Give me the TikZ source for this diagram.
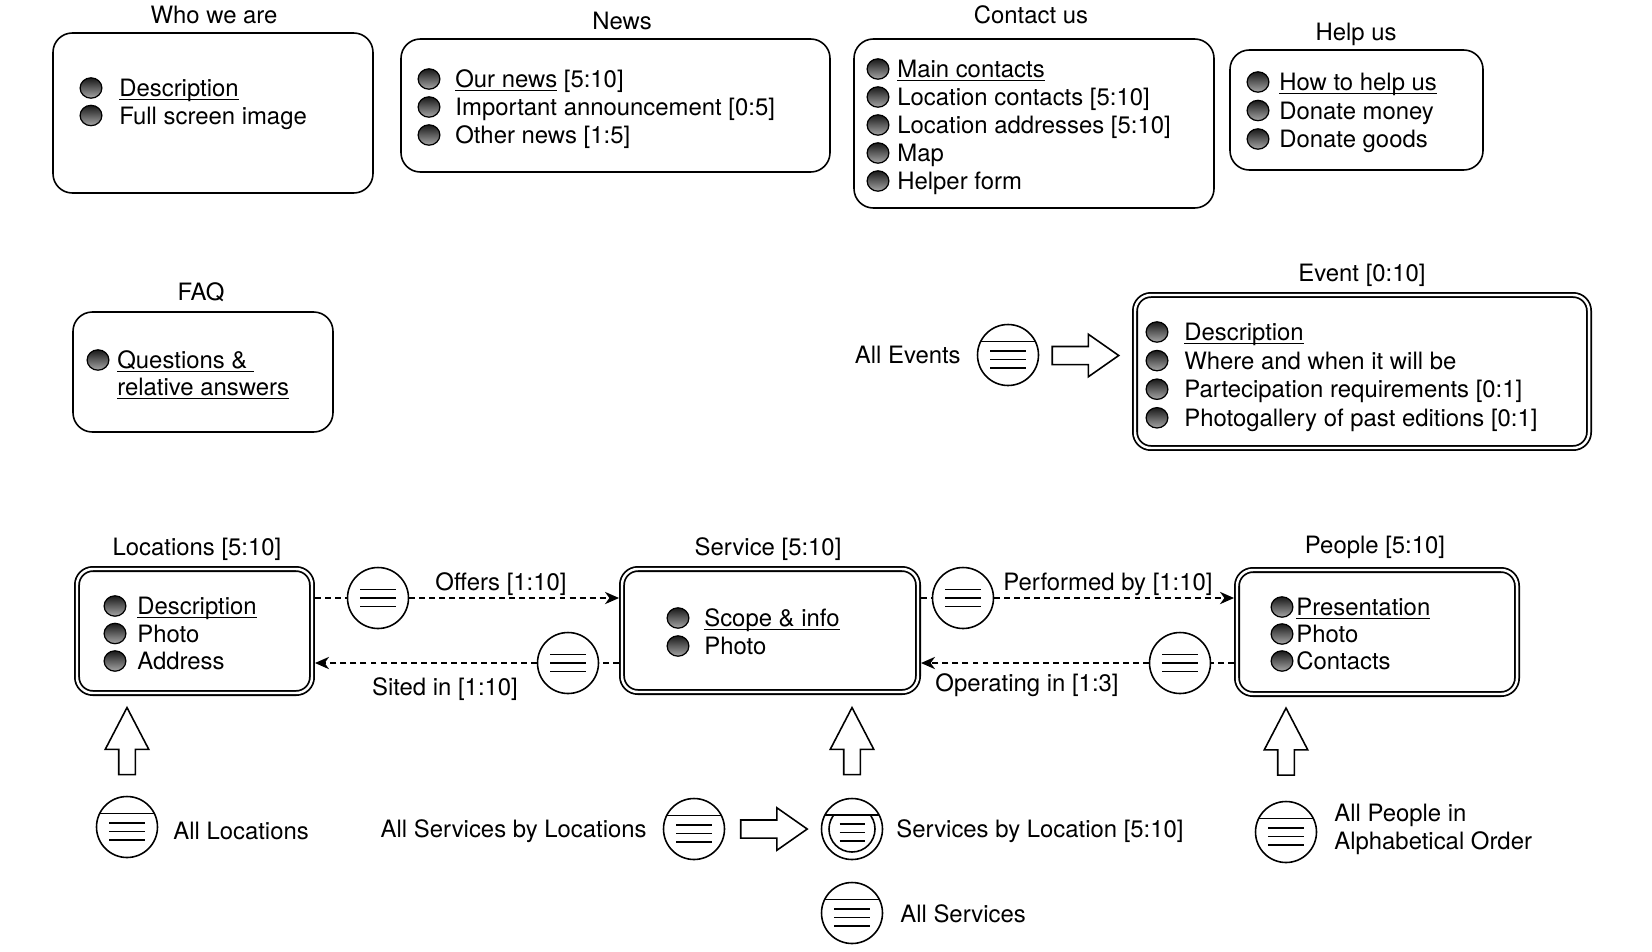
\documentclass[tikz,border=0pt]{standalone}
\usepackage{fontspec}
\setmainfont{TeX Gyre Heros}
\usetikzlibrary{arrows.meta,calc,fit,shapes.arrows}
\newcommand{\ulink}[1]{\setbox0\hbox{#1}\rlap{\rule[-2.2pt]{\wd0}{0.75pt}}\box0\relax}
\tikzset{
  pagebox/.style={draw, line width=0.9pt, rounded corners=11pt, inner sep=0pt, fit={#1}},
  entitybox/.style={draw, line width=1pt, double, double distance=1.4pt, rounded corners=9pt, inner sep=0pt, outer sep=1.7pt, fit={#1}},
  title/.style={anchor=base, inner sep=0pt},
  itemtext/.style={anchor=base west, inner sep=0pt},
  bullet/.style={draw=black, line width=0.7pt, top color=black!90, bottom color=black!35},
  idxbase/.style={circle, draw, line width=0.9pt, fill=white, minimum size=1.22cm, inner sep=0pt},
  idx/.style={idxbase, path picture={
    \foreach \dy in {-8.5,0,8.5}
      \draw[line width=0.9pt] ($(path picture bounding box.center)+(-18,\dy)$) -- +(36,0);
  }},
  idxentry/.style={idxbase, path picture={
    \draw[line width=0.9pt] ($(path picture bounding box.center)+(-40,-13.5)$) -- +(80,0);
    \foreach \dy in {-4,4.5,13}
      \draw[line width=0.9pt] ($(path picture bounding box.center)+(-18,\dy)$) -- +(36,0);
  }},
  idxnested/.style={idxbase, path picture={
    \draw[line width=0.9pt] ($(path picture bounding box.center)+(-40,-14)$) -- +(80,0);
    \begin{scope}
      \clip ($(path picture bounding box.center)+(-40,-14)$) rectangle +(80,60);
      \draw[line width=0.9pt] (path picture bounding box.center) circle (23);
    \end{scope}
    \foreach \dy in {-5,3.5,12}
      \draw[line width=0.9pt] ($(path picture bounding box.center)+(-12.5,\dy)$) -- +(25,0);
  }},
  relline/.style={line width=0.9pt, dash pattern=on 3.4pt off 2.3pt},
  relarrow/.style={relline, -{Stealth[length=8pt, width=7pt, inset=2.5pt]}},
  uarrow/.style={draw, line width=0.9pt, fill=white, single arrow, rotate=90, inner xsep=0pt, inner ysep=0.15cm,
    minimum height=1.34cm, single arrow head extend=0.27cm, single arrow tip angle=55},
  rarrow/.style={draw, line width=0.9pt, fill=white, single arrow, inner xsep=0pt, inner ysep=0.165cm,
    minimum height=1.33cm, single arrow head extend=0.245cm, single arrow tip angle=70}
}

\begin{document}
\begin{tikzpicture}[x=0.02cm, y=-0.02cm, font=\fontsize{13.6pt}{16pt}\selectfont]
  \useasboundingbox (0,0) rectangle (1652,951);

  % page boxes
  \node[pagebox={(53,33) (373,193)}] (who) {};
  \node[pagebox={(401,39) (830,172)}] (news) {};
  \node[pagebox={(854,39) (1214,208)}] (contact) {};
  \node[pagebox={(1230,50) (1483,170)}] (help) {};
  \node[pagebox={(73,312) (333,432)}] (faq) {};
  \node[entitybox={(1135,295) (1589,448)}] (event) {};
  \node[entitybox={(77,569) (312,693)}] (loc) {};
  \node[entitybox={(622,569) (918,692)}] (serv) {};
  \node[entitybox={(1237,570) (1517,694)}] (people) {};

  \node[title] (who-t) at (214,23.5) {Who we are};
  \node[title] (news-t) at (622,29.5) {News};
  \node[title] (contact-t) at (1031,23.5) {Contact us};
  \node[title] (help-t) at (1356,40.5) {Help us};
  \node[title] (faq-t) at (201,300.5) {FAQ};
  \node[title] (event-t) at (1362,281.5) {Event [0:10]};
  \node[title] (loc-t) at (197,555.5) {Locations [5:10]};
  \node[title] (serv-t) at (768,555.5) {Service [5:10]};
  \node[title] (people-t) at (1375,553.5) {People [5:10]};

  % items
  \foreach \txt [count=\i from 0] in {\ulink{Description}, Full screen image} {
    \path[bullet] (91,88+27.5*\i) ellipse (6.2pt and 5.8pt);
    \node[itemtext] (who-\i) at (119,96.5+27.5*\i) {\txt};
  }
  \foreach \txt [count=\i from 0] in {{\ulink{Our news} [5:10]}, Important announcement [0:5], Other news [1:5]} {
    \path[bullet] (429,79+28*\i) ellipse (6.2pt and 5.8pt);
    \node[itemtext] (news-\i) at (455,87.5+28*\i) {\txt};
  }
  \foreach \txt [count=\i from 0] in {\ulink{Main contacts}, Location contacts [5:10], Location addresses [5:10], Map, Helper form} {
    \path[bullet] (878,69+28*\i) ellipse (6.2pt and 5.8pt);
    \node[itemtext] (contact-\i) at (897,77.5+28*\i) {\txt};
  }
  \foreach \txt [count=\i from 0] in {\ulink{How to help us}, Donate money, Donate goods} {
    \path[bullet] (1258,82+28.5*\i) ellipse (6.2pt and 5.8pt);
    \node[itemtext] (help-\i) at (1279,90.5+28.5*\i) {\txt};
  }
  \path[bullet] (98,360) ellipse (6.2pt and 5.8pt);
  \node[itemtext] (faq-0) at (117,368.5) {\ulink{Questions \&\ }};
  \node[itemtext] (faq-1) at (117,395.5) {\ulink{relative answers}};
  \foreach \txt [count=\i from 0] in {\ulink{Description}, Where and when it will be, Partecipation requirements [0:1], Photogallery of past editions [0:1]} {
    \path[bullet] (1157,332+28.6*\i) ellipse (6.2pt and 5.8pt);
    \node[itemtext] (event-\i) at (1184,340.5+28.6*\i) {\txt};
  }
  \foreach \txt [count=\i from 0] in {\ulink{Description}, Photo, Address} {
    \path[bullet] (115,606+27.5*\i) ellipse (6.2pt and 5.8pt);
    \node[itemtext] (loc-\i) at (137,614.5+27.5*\i) {\txt};
  }
  \foreach \txt [count=\i from 0] in {\ulink{Scope \& info}, Photo} {
    \path[bullet] (678,618+28*\i) ellipse (6.2pt and 5.8pt);
    \node[itemtext] (serv-\i) at (704,626.5+28*\i) {\txt};
  }
  \foreach \txt [count=\i from 0] in {\ulink{Presentation}, Photo, Contacts} {
    \path[bullet] (1282,607+27*\i) ellipse (6.2pt and 5.8pt);
    \node[itemtext] (people-\i) at (1296,615.5+27*\i) {\txt};
  }

  % relations
  \node[idx] (offers-i) at (378,598) {};
  \node[idx] (sited-i) at (568,663) {};
  \node[idx] (perf-i) at (963,598) {};
  \node[idx] (oper-i) at (1180,663) {};
  \draw[relline] (loc.east |- offers-i) -- (offers-i);
  \draw[relarrow] (offers-i) -- (serv.west |- offers-i);
  \draw[relline] (serv.west |- sited-i) -- (sited-i);
  \draw[relarrow] (sited-i) -- (loc.east |- sited-i);
  \draw[relline] (serv.east |- perf-i) -- (perf-i);
  \draw[relarrow] (perf-i) -- (people.west |- perf-i);
  \draw[relline] (people.west |- oper-i) -- (oper-i);
  \draw[relarrow] (oper-i) -- (serv.east |- oper-i);
  \node[title] (offers-l) at (501,590.5) {Offers [1:10]};
  \node[title] (sited-l) at (445,695.5) {Sited in [1:10]};
  \node[title] (perf-l) at (1108,590) {Performed by [1:10]};
  \node[title] (oper-l) at (1027,691.5) {Operating in [1:3]};

  % entry points
  \node[idxentry] (allev) at (1008,355) {};
  \node[itemtext, anchor=base east] (allev-l) at (961,363.5) {All Events};
  \node[rarrow] (ev-arrow) at (1079,355.5) {};

  \node[idxentry] (allloc) at (127,827) {};
  \node[itemtext] (allloc-l) at (173,839.5) {All Locations};
  \node[uarrow] (loc-arrow) at (127,749) {};

  \node[idxentry] (allservloc) at (694,829) {};
  \node[itemtext, anchor=base east] (allservloc-l) at (647,837.5) {All Services by Locations};
  \node[rarrow] (servloc-arrow) at (767.5,829) {};
  \node[idxnested] (servbyloc) at (852,829) {};
  \node[itemtext] (servbyloc-l) at (896,837.5) {Services by Location [5:10]};
  \node[uarrow] (serv-arrow) at (852,749) {};
  \node[idxentry] (allserv) at (852,913) {};
  \node[itemtext] (allserv-l) at (900,922.5) {All Services};

  \node[idxentry] (allpeople) at (1286,832) {};
  \node[align=left, anchor=west, inner sep=0pt, font=\fontsize{13.6pt}{15.9pt}\selectfont] (allpeople-l) at (1334,829) {All People in\\Alphabetical Order};
  \node[uarrow] (people-arrow) at (1286,749.5) {};
\end{tikzpicture}
\end{document}
